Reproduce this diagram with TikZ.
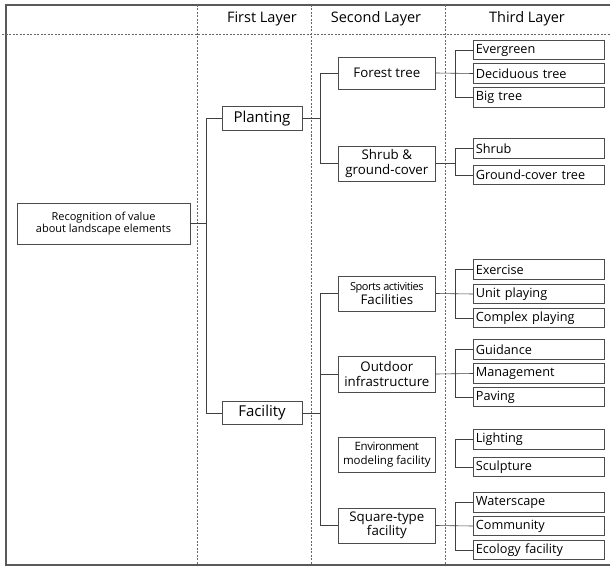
\documentclass[tikz,border=0pt]{standalone}
\usepackage{fontspec}
\setmainfont{Open Sans}
\begin{document}
\begin{tikzpicture}[x=1pt,y=-1pt,
  box/.style={draw=black!70,line width=0.7pt,inner sep=0pt,font=\fontsize{11}{12.5}\selectfont,align=center},
  leaf/.style={draw=black!70,line width=0.7pt,inner sep=0pt,minimum width=131pt,minimum height=19.5pt,font=\fontsize{12.7}{13}\selectfont,anchor=west,text width=126pt,align=left},
  mid/.style={box,minimum width=97pt,minimum height=35pt,anchor=west,font=\fontsize{13.3}{14.5}\selectfont},
  lvl1/.style={box,minimum width=80pt,minimum height=23.5pt,font=\fontsize{15}{16}\selectfont},
  conn/.style={draw=black!75,line width=0.6pt},
  grid/.style={draw=black!60,line width=0.5pt,dash pattern=on 2pt off 1.5pt},
  hdr/.style={font=\fontsize{14.5}{16}\selectfont}]
\useasboundingbox (0,0) rectangle (610,567);
% frame
\draw[black!65,line width=1.1pt] (610,5) -- (6,5) -- (6,565) -- (610,565);
\draw[grid] (2,34) -- (610,34);
\draw[grid] (197,5) -- (197,565);
\draw[grid] (311,5) -- (311,565);
\draw[grid] (445,5) -- (445,565);
% headers
\node[hdr] (h1) at (262,19) {First Layer};
\node[hdr] (h2) at (376,19) {Second Layer};
\node[hdr] (h3) at (527,19) {Third Layer};
% root
\node[box,minimum width=173pt,minimum height=41pt] (root) at (103.5,223.5) {Recognition of value\\about landscape elements};
% level 1
\node[lvl1] (plant) at (262,118.5) {Planting};
\node[lvl1] (fac) at (262,413) {Facility};
% level 2
\node[mid,minimum height=32pt] (forest) at (338,73) {Forest tree};
\node[mid] (shrubg) at (338,163.5) {Shrub \&\\ground-cover};
\node[mid] (sports) at (338,293.5) {{\fontsize{11}{12}\selectfont\addfontfeature{LetterSpace=-4}Sports activities}\\Facilities};
\node[mid,minimum height=36pt] (outdoor) at (338,374) {Outdoor\\infrastructure};
\node[mid,font=\fontsize{11.5}{14.5}\selectfont] (env) at (338,454.5) {\addfontfeature{LetterSpace=-4}Environment\\modeling facility};
\node[mid] (square) at (338,525.5) {Square-type\\facility};
% level 3
\node[leaf] (ever) at (473,50) {Evergreen};
\node[leaf] (dec) at (473,73.5) {Deciduous tree};
\node[leaf] (big) at (473,97.5) {Big tree};
\node[leaf] (shrub) at (473,148.5) {Shrub};
\node[leaf] (gct) at (473,175) {Ground-cover tree};
\node[leaf] (exer) at (473,269.5) {Exercise};
\node[leaf] (unit) at (473,294) {Unit playing};
\node[leaf] (comp) at (473,318) {Complex playing};
\node[leaf] (guid) at (473,349.5) {Guidance};
\node[leaf] (mgmt) at (473,373.5) {Management};
\node[leaf] (pav) at (473,397) {Paving};
\node[leaf] (light) at (473,439.5) {Lighting};
\node[leaf] (sculp) at (473,467) {Sculpture};
\node[leaf] (water) at (473,502.5) {Waterscape};
\node[leaf] (comm) at (473,526) {Community};
\node[leaf] (eco) at (473,550) {Ecology facility};
% connectors root
\draw[conn] (root.east) -- (206,223.5);
\draw[conn] (plant.west) -- (206,118.5) -- (206,413) -- (fac.west);
% planting
\draw[conn] (plant.east) -- (320,118.5);
\draw[conn] (forest.west) -- (320,73) -- (320,163.5) -- (shrubg.west);
% facility
\draw[conn] (fac.east) -- (320,413);
\draw[conn] (sports.west) -- (320,293.5) -- (320,525.5) -- (square.west);
\draw[conn] (outdoor.west) -- (320,374);
% third layer
\draw[conn] (forest.east) -- (dec.west);
\draw[conn] (ever.west) -- (455,50) -- (455,97.5) -- (big.west);
\draw[conn] (shrubg.east) -- (455,163.5);
\draw[conn] (shrub.west) -- (455,148.5) -- (455,175) -- (gct.west);
\draw[conn] (sports.east) -- (unit.west);
\draw[conn] (exer.west) -- (455,269.5) -- (455,318) -- (comp.west);
\draw[conn] (outdoor.east) -- (mgmt.west);
\draw[conn] (guid.west) -- (455,349.5) -- (455,397) -- (pav.west);
\draw[conn] (light.west) -- (455,439.5) -- (455,467) -- (sculp.west);
\draw[conn] (square.east) -- (comm.west);
\draw[conn] (water.west) -- (455,502.5) -- (455,550) -- (eco.west);
\end{tikzpicture}
\end{document}
